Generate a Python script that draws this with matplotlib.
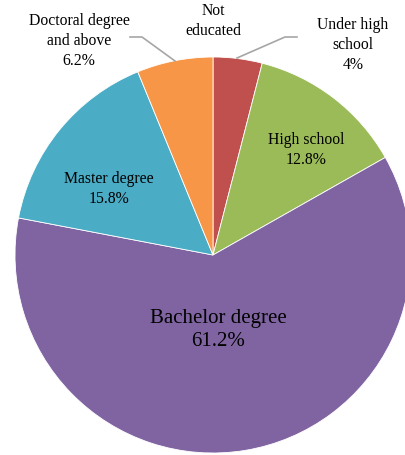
import matplotlib.pyplot as plt

# education level shares (%), clockwise from the top
labels = ["Not\neducated", "Under high\nschool", "High school", "Bachelor degree",
          "Master degree", "Doctoral degree\nand above"]
values = [0, 4, 12.8, 61.2, 15.8, 6.2]
colors = ["#C0504D", "#C0504D", "#9BBB59", "#8064A2", "#4BACC6", "#F79646"]

W, H = 406, 455
fig = plt.figure(figsize=(W / 100, H / 100), dpi=100)
ax = fig.add_axes([0, 0, 1, 1])
plt.rcParams["font.family"] = ["Liberation Serif", "DejaVu Serif"]

# pie centre / radius in pixel units (y measured from the bottom)
cx, cy, r = 213, H - 255, 198
ax.pie(values, colors=colors, startangle=90, counterclock=False,
       center=(cx, cy), radius=r,
       wedgeprops=dict(edgecolor="white", linewidth=0.6))
ax.set_xlim(0, W)
ax.set_ylim(0, H)
ax.set_aspect("equal")
ax.axis("off")

def fmt(i):
    if values[i] == 0:
        return labels[i]
    return f"{labels[i]}\n{values[i]:g}%"

# label positions in pixels (x, y from top), font sizes
spots = [(213, 21, 11.3), (353, 45, 11.3), (306, 150, 11.3), (218, 330, 15),
         (109, 189, 11.3), (79, 41, 11.3)]
for i, (x, y, fs) in enumerate(spots):
    ax.text(x, H - y, fmt(i), ha="center", va="center", fontsize=fs,
            linespacing=1.33, color="black")

# leader lines
gray = "#A6A6A6"
ax.plot([130, 142, 175], [H - 37, H - 37, H - 61], color=gray, lw=1.2)
ax.plot([297, 285, 237], [H - 37, H - 37, H - 58], color=gray, lw=1.2)

fig.savefig("out.png", dpi=100)
